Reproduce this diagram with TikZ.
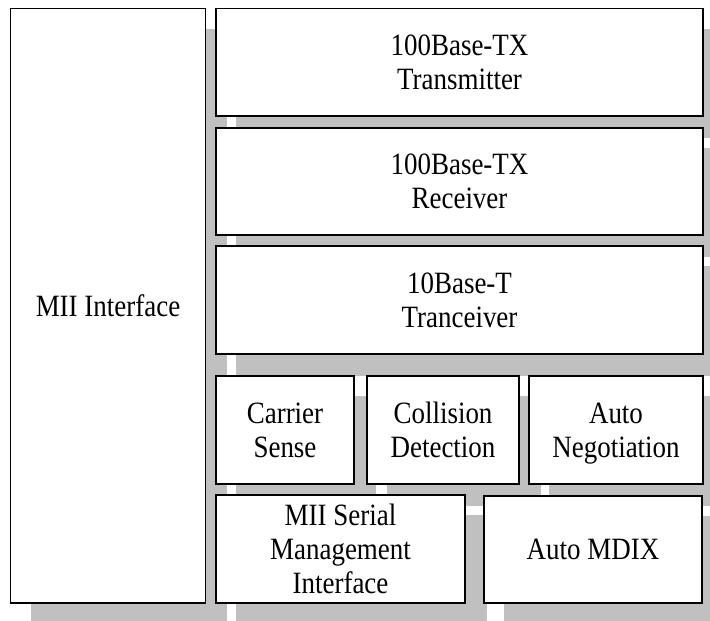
\documentclass[tikz,border=0pt]{standalone}
\usepackage{fontspec}
\setmainfont{Liberation Serif}[FakeStretch=0.87]
\usetikzlibrary{backgrounds}
\definecolor{shadowgray}{RGB}{192,192,192}
\tikzset{
  blk/.style={draw=black, line width=1.5pt, fill=white, rectangle, inner sep=0pt,
    align=center, font=\fontsize{31}{34}\selectfont},
  shad/.style={fill=shadowgray}
}
\newcommand{\mkshadow}[1]{\fill[shad] ([shift={(21,21)}]#1.north west) rectangle ([shift={(21,21)}]#1.south east);}
\begin{document}
\begin{tikzpicture}[x=1pt,y=-1pt]
\useasboundingbox (0,0) rectangle (710,621);
\clip (0,0) rectangle (710,621);
\node[blk, minimum width=195pt, minimum height=594.5pt] (mii) at (108,305.75) {MII Interface};
\node[blk, minimum width=487pt, minimum height=107.5pt] (tx) at (459.5,62.25) {100Base-TX\\Transmitter};
\node[blk, minimum width=487pt, minimum height=107pt] (rx) at (459.5,181.5) {100Base-TX\\Receiver};
\node[blk, minimum width=487pt, minimum height=108pt] (tr) at (459.5,300) {10Base-T\\Tranceiver};
\node[blk, minimum width=138pt, minimum height=108pt] (cs) at (285,430) {Carrier\\Sense};
\node[blk, minimum width=152pt, minimum height=108pt] (cd) at (443,430) {Collision\\Detection};
\node[blk, minimum width=174pt, minimum height=108pt] (an) at (616,430) {Auto\\\raisebox{0pt}[\height][0pt]{Negotiation}};
\node[blk, minimum width=249pt, minimum height=108pt] (sm) at (340.5,549) {MII Serial\\Management\\Interface};
\node[blk, minimum width=218pt, minimum height=107pt] (md) at (593,549.5) {Auto MDIX};
\begin{scope}[on background layer]
\mkshadow{mii}
\mkshadow{tx}
\mkshadow{rx}
\mkshadow{tr}
\mkshadow{cs}
\mkshadow{cd}
\mkshadow{an}
\mkshadow{sm}
\mkshadow{md}
\end{scope}
\end{tikzpicture}
\end{document}
